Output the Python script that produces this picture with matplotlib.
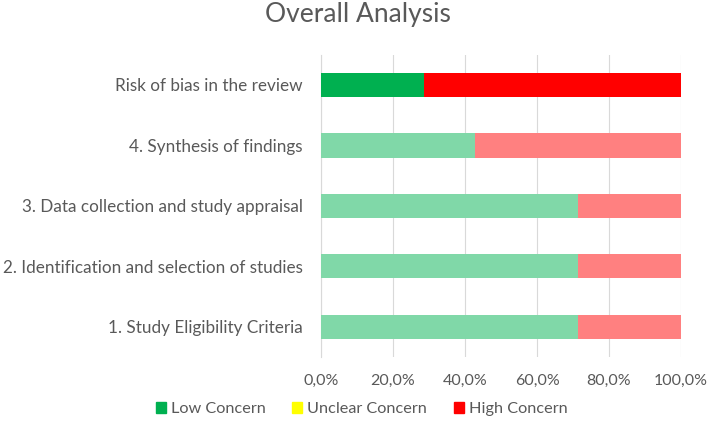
import numpy as np
import matplotlib.pyplot as plt
from matplotlib.patches import Patch

# categories from bottom to top
categories = ["1. Study Eligibility Criteria",
              "2. Identification and selection of studies",
              "3. Data collection and study appraisal",
              "4. Synthesis of findings",
              "Risk of bias in the review"]
low = [71.4, 71.4, 71.4, 42.9, 28.6]
unclear = [0, 0, 0, 0, 0]
high = [28.6, 28.6, 28.6, 57.1, 71.4]
xticks = [0, 20, 40, 60, 80, 100]

plt.rcParams['font.family'] = ['Lato', 'DejaVu Sans']
grey = "#595959"

fig = plt.figure(figsize=(7.09, 4.33), dpi=100)
ax = fig.add_axes([0.4528, 0.1755, 0.5078, 0.698])

y = np.arange(len(categories))
# last bar (overall) is solid, the domains are lighter
low_c = ["#80D8A8"] * 4 + ["#00B050"]
unc_c = ["#FFFF80"] * 4 + ["#FFFF00"]
high_c = ["#FF8080"] * 4 + ["#FF0000"]
ax.barh(y, low, height=0.4, color=low_c, zorder=3)
ax.barh(y, unclear, left=low, height=0.4, color=unc_c, zorder=3)
left2 = np.array(low) + np.array(unclear)
ax.barh(y, high, left=left2, height=0.4, color=high_c, zorder=3)

ax.set_xlim(0, 100)
ax.set_ylim(-0.5, 4.5)
ax.set_xticks(xticks)
ax.set_xticklabels([f"{v:.1f}%".replace(".", ",") for v in xticks], color=grey, fontsize=11.5)
ax.set_yticks(y)
ax.set_yticklabels(categories, color=grey, fontsize=12.3)
ax.tick_params(axis='x', length=0, pad=12)
ax.tick_params(axis='y', length=0, pad=13)
ax.xaxis.grid(True, color="#D9D9D9", linewidth=0.8, zorder=0)
for s in ["top", "right", "bottom"]:
    ax.spines[s].set_visible(False)
ax.spines["left"].set_color("#D9D9D9")

fig.suptitle("Overall Analysis", x=0.505, y=0.995, color=grey, fontsize=19)

handles = [Patch(color="#00B050", label="Low Concern"),
           Patch(color="#FFFF00", label="Unclear Concern"),
           Patch(color="#FF0000", label="High Concern")]
fig.legend(handles=handles, loc="center", bbox_to_anchor=(0.51, 0.055), ncol=3,
           frameon=False, fontsize=11.7, labelcolor=grey, handlelength=0.62,
           handleheight=0.62, handletextpad=0.3, columnspacing=1.65)

plt.savefig("out.png")
